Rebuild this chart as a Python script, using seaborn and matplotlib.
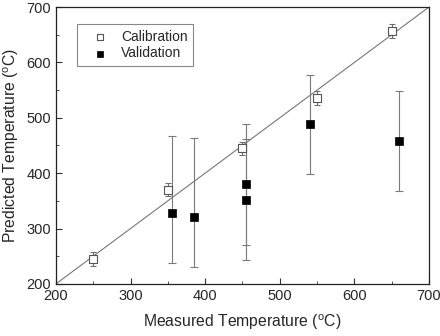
import numpy as np
import pandas as pd
import seaborn as sns
import matplotlib.pyplot as plt
from matplotlib.ticker import MultipleLocator

sns.set_style('ticks', {'xtick.direction': 'in', 'ytick.direction': 'in'})
plt.rcParams['font.family'] = ['Liberation Sans', 'DejaVu Sans']

# calibration points
cal_x = [250, 350, 450, 550, 650]
cal_y = [245, 370, 445, 536, 657]
cal_err = [12, 12, 12, 12, 12]

# validation points (error bars are not symmetric in the original)
val_x = [355, 385, 455, 455, 540, 660]
val_y = [328, 321, 380, 352, 488, 459]
val_lo = [238, 231, 243, 270, 398, 368]
val_hi = [468, 463, 489, 461, 578, 549]

cal = pd.DataFrame({'x': cal_x, 'y': cal_y})
val = pd.DataFrame({'x': val_x, 'y': val_y})

fig = plt.figure(figsize=(4.4, 3.36), dpi=100)
ax = fig.add_axes([0.127, 0.155, 0.848, 0.824])

ax.plot([200, 700], [200, 700], color='#777777', lw=0.8, zorder=1)

ax.errorbar(cal_x, cal_y, yerr=cal_err, fmt='none', ecolor='#6e6e6e',
            elinewidth=0.8, capsize=2.5, capthick=0.8, zorder=2)
yerr = [np.array(val_y) - np.array(val_lo), np.array(val_hi) - np.array(val_y)]
ax.errorbar(val_x, val_y, yerr=yerr, fmt='none', ecolor='#7a7a7a',
            elinewidth=0.8, capsize=3, capthick=0.8, zorder=2)

sns.scatterplot(data=cal, x='x', y='y', ax=ax, marker='s', s=30,
                facecolor='white', edgecolor='#555555', linewidth=0.8,
                label='Calibration', zorder=3)
sns.scatterplot(data=val, x='x', y='y', ax=ax, marker='s', s=32,
                color='black', edgecolor='black', linewidth=0.5,
                label='Validation', zorder=3)

ax.set_xlim(200, 700)
ax.set_ylim(200, 700)
ax.xaxis.set_major_locator(MultipleLocator(100))
ax.yaxis.set_major_locator(MultipleLocator(100))
ax.xaxis.set_minor_locator(MultipleLocator(50))
ax.yaxis.set_minor_locator(MultipleLocator(50))
ax.tick_params(which='major', length=4, width=0.8, labelsize=10.5, color='#333333')
ax.tick_params(which='minor', length=2, width=0.6, color='#333333')
for s in ax.spines.values():
    s.set_linewidth(0.9)
    s.set_color('#222222')

ax.set_xlabel('Measured Temperature ($^\\mathregular{o}$C)', fontsize=11.3, labelpad=7)
ax.set_ylabel('Predicted Temperature ($^\\mathregular{o}$C)', fontsize=11.3, labelpad=4)

leg = ax.legend(loc='upper left', bbox_to_anchor=(0.056, 0.939), borderaxespad=0,
                fontsize=10, frameon=True, fancybox=False, framealpha=1,
                edgecolor='#888888', handlelength=2.6, handletextpad=0.2,
                borderpad=0.4, labelspacing=0.2, markerscale=0.75)
leg.get_frame().set_linewidth(0.8)

plt.savefig('out.png', dpi=100)
